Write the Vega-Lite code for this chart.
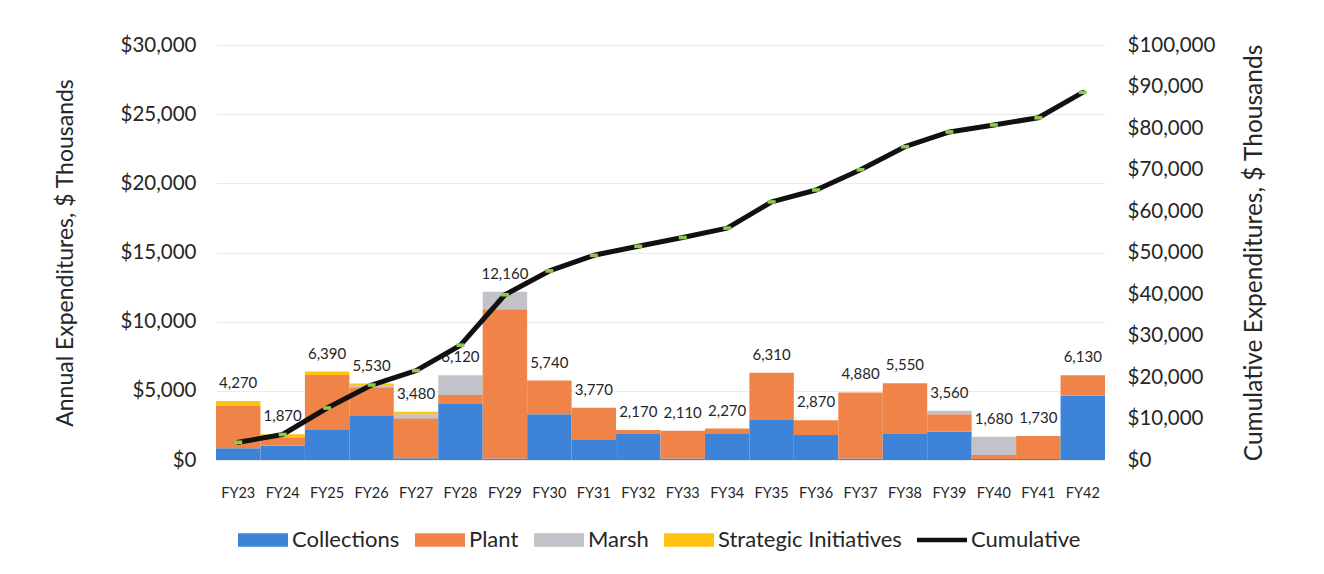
{
  "$schema": "https://vega.github.io/schema/vega-lite/v6.json",
  "width": 889,
  "height": 415,
  "autosize": "none",
  "padding": {"left": 216, "top": 45, "right": 219, "bottom": 114},
  "background": "white",
  "config": {
    "font": "Lato",
    "view": {"stroke": null},
    "axis": {"labelColor": "#262626", "titleColor": "#262626", "titleFontWeight": "normal"}
  },
  "datasets": {
    "parts": [
      {"year": "FY23", "category": "Collections", "value": 850},
      {"year": "FY23", "category": "Plant", "value": 3050},
      {"year": "FY23", "category": "Marsh", "value": 0},
      {"year": "FY23", "category": "Strategic Initiatives", "value": 370},
      {"year": "FY24", "category": "Collections", "value": 1030},
      {"year": "FY24", "category": "Plant", "value": 620},
      {"year": "FY24", "category": "Marsh", "value": 0},
      {"year": "FY24", "category": "Strategic Initiatives", "value": 220},
      {"year": "FY25", "category": "Collections", "value": 2220},
      {"year": "FY25", "category": "Plant", "value": 3930},
      {"year": "FY25", "category": "Marsh", "value": 0},
      {"year": "FY25", "category": "Strategic Initiatives", "value": 240},
      {"year": "FY26", "category": "Collections", "value": 3180},
      {"year": "FY26", "category": "Plant", "value": 2080},
      {"year": "FY26", "category": "Marsh", "value": 100},
      {"year": "FY26", "category": "Strategic Initiatives", "value": 170},
      {"year": "FY27", "category": "Collections", "value": 130},
      {"year": "FY27", "category": "Plant", "value": 2890},
      {"year": "FY27", "category": "Marsh", "value": 290},
      {"year": "FY27", "category": "Strategic Initiatives", "value": 170},
      {"year": "FY28", "category": "Collections", "value": 4050},
      {"year": "FY28", "category": "Plant", "value": 650},
      {"year": "FY28", "category": "Marsh", "value": 1420},
      {"year": "FY28", "category": "Strategic Initiatives", "value": 0},
      {"year": "FY29", "category": "Collections", "value": 100},
      {"year": "FY29", "category": "Plant", "value": 10800},
      {"year": "FY29", "category": "Marsh", "value": 1260},
      {"year": "FY29", "category": "Strategic Initiatives", "value": 0},
      {"year": "FY30", "category": "Collections", "value": 3300},
      {"year": "FY30", "category": "Plant", "value": 2440},
      {"year": "FY31", "category": "Collections", "value": 1500},
      {"year": "FY31", "category": "Plant", "value": 2270},
      {"year": "FY32", "category": "Collections", "value": 1880},
      {"year": "FY32", "category": "Plant", "value": 290},
      {"year": "FY33", "category": "Collections", "value": 100},
      {"year": "FY33", "category": "Plant", "value": 2010},
      {"year": "FY34", "category": "Collections", "value": 1930},
      {"year": "FY34", "category": "Plant", "value": 340},
      {"year": "FY35", "category": "Collections", "value": 2890},
      {"year": "FY35", "category": "Plant", "value": 3420},
      {"year": "FY36", "category": "Collections", "value": 1810},
      {"year": "FY36", "category": "Plant", "value": 1060},
      {"year": "FY37", "category": "Collections", "value": 100},
      {"year": "FY37", "category": "Plant", "value": 4780},
      {"year": "FY38", "category": "Collections", "value": 1880},
      {"year": "FY38", "category": "Plant", "value": 3670},
      {"year": "FY39", "category": "Collections", "value": 2050},
      {"year": "FY39", "category": "Plant", "value": 1250},
      {"year": "FY39", "category": "Marsh", "value": 260},
      {"year": "FY40", "category": "Collections", "value": 80},
      {"year": "FY40", "category": "Plant", "value": 280},
      {"year": "FY40", "category": "Marsh", "value": 1320},
      {"year": "FY41", "category": "Collections", "value": 80},
      {"year": "FY41", "category": "Plant", "value": 1650},
      {"year": "FY42", "category": "Collections", "value": 4650},
      {"year": "FY42", "category": "Plant", "value": 1480}
    ],
    "totals": [
      {"year": "FY23", "total": 4270, "cumulative": 4270},
      {"year": "FY24", "total": 1870, "cumulative": 6140},
      {"year": "FY25", "total": 6390, "cumulative": 12530},
      {"year": "FY26", "total": 5530, "cumulative": 18060},
      {"year": "FY27", "total": 3480, "cumulative": 21540},
      {"year": "FY28", "total": 6120, "cumulative": 27660},
      {"year": "FY29", "total": 12160, "cumulative": 39820},
      {"year": "FY30", "total": 5740, "cumulative": 45560},
      {"year": "FY31", "total": 3770, "cumulative": 49330},
      {"year": "FY32", "total": 2170, "cumulative": 51500},
      {"year": "FY33", "total": 2110, "cumulative": 53610},
      {"year": "FY34", "total": 2270, "cumulative": 55880},
      {"year": "FY35", "total": 6310, "cumulative": 62190},
      {"year": "FY36", "total": 2870, "cumulative": 65060},
      {"year": "FY37", "total": 4880, "cumulative": 69940},
      {"year": "FY38", "total": 5550, "cumulative": 75490},
      {"year": "FY39", "total": 3560, "cumulative": 79050},
      {"year": "FY40", "total": 1680, "cumulative": 80730},
      {"year": "FY41", "total": 1730, "cumulative": 82460},
      {"year": "FY42", "total": 6130, "cumulative": 88590}
    ]
  },
  "encoding": {
    "x": {
      "field": "year",
      "type": "nominal",
      "sort": null,
      "scale": {"paddingInner": 0, "paddingOuter": 0},
      "axis": {
        "title": null,
        "labelAngle": 0,
        "ticks": false,
        "domain": false,
        "labelFontSize": 14.5,
        "labelPadding": 26
      }
    }
  },
  "layer": [
    {
      "layer": [
        {
          "data": {"name": "parts"},
          "transform": [
            {"calculate": "indexof(['Collections','Plant','Marsh','Strategic Initiatives'], datum.category)", "as": "stackKey"}
          ],
          "mark": {"type": "bar"},
          "encoding": {
            "y": {
              "field": "value",
              "type": "quantitative",
              "stack": "zero",
              "scale": {"domain": [0, 30000]},
              "axis": {
                "title": "Annual Expenditures, $ Thousands",
                "format": "$,.0f",
                "values": [0, 5000, 10000, 15000, 20000, 25000, 30000],
                "labelFontSize": 20.5,
                "titleFontSize": 23,
                "labelPadding": 20,
                "titlePadding": 43,
                "ticks": false,
                "domain": false,
                "gridColor": "#ebebeb",
                "gridWidth": 1
              }
            },
            "order": {"field": "stackKey", "type": "quantitative", "sort": "ascending"},
            "color": {
              "field": "category",
              "type": "nominal",
              "scale": {
                "domain": ["Collections", "Plant", "Marsh", "Strategic Initiatives", "Cumulative"],
                "range": ["#3d84d9", "#f08448", "#c3c2c8", "#ffc20e", "#111111"]
              },
              "legend": {
                "title": null,
                "orient": "none",
                "direction": "horizontal",
                "legendX": 22,
                "legendY": 470,
                "labelFontSize": 22,
                "labelLimit": 400,
                "labelColor": "#262626",
                "symbolSize": 2500,
                "symbolStrokeWidth": 0,
                "symbolOpacity": 1,
                "labelOffset": 4,
                "columnPadding": 15,
                "symbolType": "M-1,-0.27L1,-0.27L1,0.27L-1,0.27Z",
                "encode": {
                  "symbols": {
                    "update": {
                      "shape": {"signal": "datum.value === 'Cumulative' ? 'M-1,-0.09L1,-0.09L1,0.09L-1,0.09Z' : 'M-1,-0.27L1,-0.27L1,0.27L-1,0.27Z'"}
                    }
                  }
                }
              }
            }
          }
        },
        {
          "data": {"name": "totals"},
          "mark": {"type": "text", "fontSize": 15, "color": "#262626", "baseline": "alphabetic", "dy": -13},
          "encoding": {
            "y": {"field": "total", "type": "quantitative"},
            "text": {"field": "total", "type": "quantitative", "format": ",d"}
          }
        }
      ]
    },
    {
      "layer": [
        {
          "data": {"name": "totals"},
          "mark": {"type": "line", "strokeWidth": 5, "strokeCap": "round", "strokeJoin": "round"},
          "encoding": {
            "y": {
              "field": "cumulative",
              "type": "quantitative",
              "scale": {"domain": [0, 100000]},
              "axis": {
                "orient": "right",
                "title": "Cumulative Expenditures, $ Thousands",
                "titleAngle": 270,
                "format": "$,.0f",
                "values": [0, 10000, 20000, 30000, 40000, 50000, 60000, 70000, 80000, 90000, 100000],
                "labelFontSize": 20.5,
                "titleFontSize": 24.5,
                "labelPadding": 22,
                "titlePadding": 52,
                "ticks": false,
                "domain": false,
                "grid": false
              }
            },
            "color": {"datum": "Cumulative"}
          }
        },
        {
          "data": {"name": "totals"},
          "mark": {"type": "point", "filled": true, "size": 64, "opacity": 1, "color": "#8fc84a", "shape": "M-1,-0.45L1,-0.45L1,0.45L-1,0.45Z"},
          "encoding": {
            "y": {"field": "cumulative", "type": "quantitative"}
          }
        }
      ]
    }
  ],
  "resolve": {"scale": {"y": "independent"}}
}
